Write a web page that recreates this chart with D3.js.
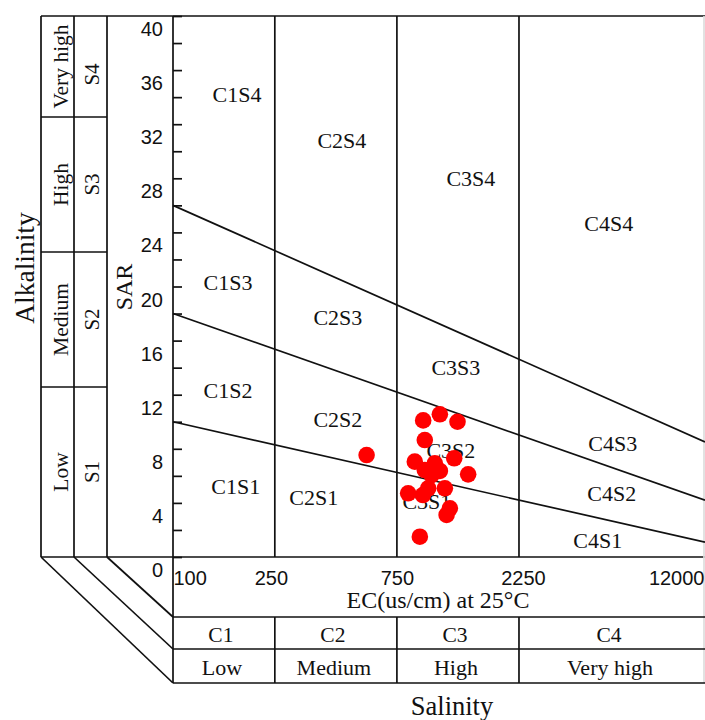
<!DOCTYPE html>
<html>
<head>
<meta charset="utf-8">
<script src="https://cdn.jsdelivr.net/npm/d3@7"></script>
<style>
  body { margin: 0; background: #fff; }
  text { fill: #111; }
</style>
</head>
<body>
<script>
// EC (us/cm) and SAR of the samples
const ecValues  = [950, 1104, 1294, 964, 571, 881, 1055, 1256, 964, 1104, 1424, 1025, 830, 994, 1155, 948, 1208, 1173, 922]
const sarValues = [10.1, 10.55, 10.0, 8.65, 7.54, 7.05, 6.93, 7.3, 6.43, 6.36, 6.11, 6.06, 4.71, 5.08, 5.08, 4.58, 3.6, 3.11, 1.5]

// boundary lines S1/S2, S2/S3, S3/S4 : SAR at EC=100 and at EC=12000
const sarAtLow  = [10, 18, 26]
const sarAtHigh = [1.1, 4.2, 8.5]

const ecTicks = [100, 250, 750, 2250, 12000]
const ecBreaks = [250, 750, 2250]
const cClasses = ["C1", "C2", "C3", "C4"]
const cNames = ["Low", "Medium", "High", "Very high"]
const sClasses = ["S4", "S3", "S2", "S1"]
const sNames = ["Very high", "High", "Medium", "Low"]

const zoneNames = ["C1S4","C2S4","C3S4","C4S4","C1S3","C2S3","C3S3","C4S3",
                   "C1S2","C2S2","C3S2","C4S2","C1S1","C2S1","C3S1","C4S1"]
const zoneEC  = [178, 457, 1459, 5049, 164, 441, 1275, 5233, 164, 441, 1219, 5187, 176, 355, 982, 4571]
const zoneSAR = [34.2, 30.8, 28.0, 24.7, 20.3, 17.7, 14.0, 8.4, 12.35, 10.2, 7.9, 4.7, 5.2, 4.4, 4.1, 1.25]

const serif = '"Liberation Serif", "Times New Roman", serif'
const sans = '"Liberation Sans", Arial, sans-serif'

const W = 705, H = 720
const pLeft = 173, pRight = 705, pTop = 16, pBottom = 557
const ecBandBottom = 617, cRowBottom = 649, nameRowBottom = 683
const tableX = [41, 74, 107]
const tableRows = [16, 117, 252, 387, 557]

const svg = d3.select("body").append("svg")
  .attr("width", W)
  .attr("height", H)

const x = d3.scaleLog().domain([100, 12000]).range([pLeft, pRight])
const y = d3.scaleLinear().domain([0, 40]).range([pBottom, pTop])

const lineCol = "#111"
const sw = 1.7

function seg(x1, y1, x2, y2, col) {
  svg.append("line")
    .attr("x1", x1).attr("y1", y1).attr("x2", x2).attr("y2", y2)
    .attr("stroke", col || lineCol).attr("stroke-width", sw)
}

// frame
seg(tableX[0], pTop, pRight, pTop)
seg(tableX[0], pBottom, pRight, pBottom)
tableX.forEach(function(tx) { seg(tx, pTop, tx, pBottom) })
seg(pLeft, pTop, pLeft, nameRowBottom)
seg(pRight - 1, pTop, pRight - 1, nameRowBottom, "#ddd")
tableRows.slice(1, 4).forEach(function(ty) { seg(tableX[0], ty, tableX[2], ty) })

// bottom class boxes
seg(pLeft, ecBandBottom, pRight, ecBandBottom)
seg(pLeft, cRowBottom, pRight, cRowBottom)
seg(pLeft, nameRowBottom, pRight, nameRowBottom)
ecBreaks.forEach(function(v) {
  seg(x(v), pTop, x(v), pBottom)
  seg(x(v), ecBandBottom, x(v), nameRowBottom)
})

// perspective diagonals
seg(tableX[0], pBottom, pLeft, nameRowBottom)
seg(tableX[1], pBottom, pLeft, cRowBottom)
seg(tableX[2], pBottom, pLeft, ecBandBottom)

// salinity-hazard boundary lines
sarAtLow.forEach(function(s, i) {
  svg.append("path")
    .datum([[100, s], [12000, sarAtHigh[i]]])
    .attr("fill", "none")
    .attr("stroke", lineCol)
    .attr("stroke-width", sw)
    .attr("d", d3.line().x(function(d) { return x(d[0]) }).y(function(d) { return y(d[1]) }))
})

// y axis ticks (inside)
svg.append("g")
  .attr("transform", "translate(" + pLeft + ",0)")
  .call(d3.axisRight(y).tickValues(d3.range(0, 41, 2)).tickSize(9).tickSizeOuter(0).tickFormat(""))
  .call(function(g) { g.select(".domain").remove() })
  .selectAll("line").attr("stroke", lineCol).attr("stroke-width", sw)

// y tick labels
const yLab = svg.append("g")
  .attr("transform", "translate(" + (pLeft - 10) + ",0)")
  .call(d3.axisLeft(y).tickValues(d3.range(0, 41, 4)).tickSize(0).tickPadding(0))
yLab.select(".domain").remove()
yLab.selectAll("text")
  .attr("dy", "0.35em")
  .attr("y", 12.5)
  .style("font-family", sans)
  .style("font-size", "20px")
  .style("fill", "#111")

// x tick labels
const xLab = svg.append("g")
  .attr("transform", "translate(0," + pBottom + ")")
  .call(d3.axisBottom(x).tickValues(ecTicks).tickSize(0).tickFormat(d3.format("d")))
xLab.select(".domain").remove()
xLab.selectAll("text")
  .attr("y", 21)
  .attr("dy", "0.35em")
  .attr("text-anchor", function(d) { return d === 100 ? "start" : d === 12000 ? "end" : "middle" })
  .attr("dx", function(d) { return d === 12000 ? -1 : d === 250 ? -4 : d === 2250 ? 4 : 0 })
  .style("font-family", sans)
  .style("font-size", "20px")
  .style("fill", "#111")

function label(txt, px, py, size, rot, font) {
  svg.append("text")
    .attr("transform", "translate(" + px + "," + py + ")" + (rot ? " rotate(" + rot + ")" : ""))
    .attr("text-anchor", "middle")
    .attr("dy", "0.35em")
    .style("font-family", font || serif)
    .style("font-size", size + "px")
    .text(txt)
}

label("EC(us/cm) at 25\u00B0C", 438, 600, 24)
label("Salinity", 452, 706, 26.5)
label("Alkalinity", 24, 268, 27.5, -90)
label("SAR", 124, 287, 24, -90)

// C classes
const cEdges = [100].concat(ecBreaks, [12000])
cClasses.forEach(function(c, i) {
  const cx = (x(cEdges[i]) + x(cEdges[i + 1])) / 2
  label(c, cx - 3, (ecBandBottom + cRowBottom) / 2 + 1, 21.5)
  label(cNames[i], cx - 2, (cRowBottom + nameRowBottom) / 2 + 1, 22)
})

// S classes
sClasses.forEach(function(s, i) {
  const cy = (tableRows[i] + tableRows[i + 1]) / 2
  label(sNames[i], (tableX[0] + tableX[1]) / 2 + 3, cy, 21.5, -90)
  label(s, (tableX[1] + tableX[2]) / 2 + 1, cy + (i === 0 ? 8 : 0), 21, -90)
})

// zone labels
svg.append("g").selectAll("text")
  .data(zoneNames)
  .enter().append("text")
  .attr("x", function(d, i) { return x(zoneEC[i]) })
  .attr("y", function(d, i) { return y(zoneSAR[i]) })
  .attr("dy", "0.35em")
  .attr("text-anchor", "middle")
  .style("font-family", serif)
  .style("font-size", "22px")
  .text(function(d) { return d })

// samples
svg.append("g").selectAll("circle")
  .data(ecValues)
  .enter().append("circle")
  .attr("cx", function(d) { return x(d) })
  .attr("cy", function(d, i) { return y(sarValues[i]) })
  .attr("r", 8.3)
  .attr("fill", "#f00")
</script>
</body>
</html>
